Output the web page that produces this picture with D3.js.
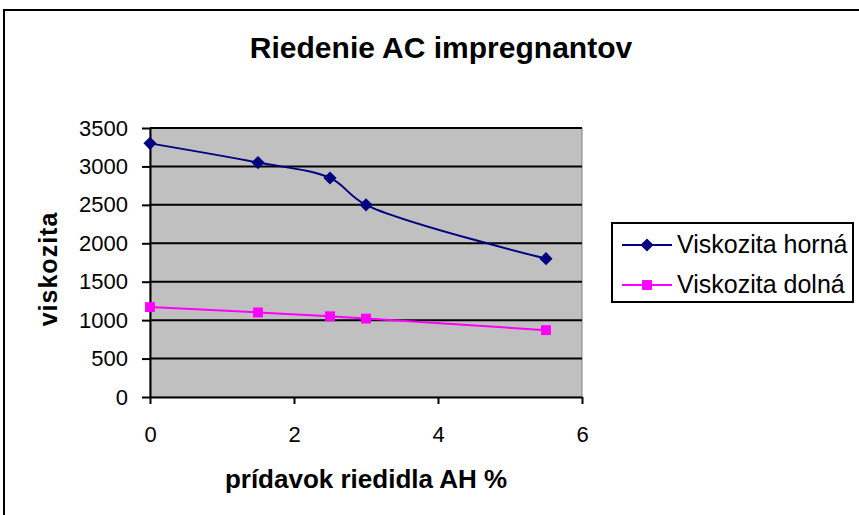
<!DOCTYPE html>
<html lang="sk">
<head>
  <meta charset="UTF-8">
  <title>Riedenie AC impregnantov</title>
  <script src="https://d3js.org/d3.v7.min.js"></script>
  <style>
    body { margin: 0; background: #fff; }
    svg { display: block; font-family: "Liberation Sans", Arial, sans-serif; }
  </style>
</head>
<body>
<svg id="chart" width="859" height="515"></svg>
<script>
  // hodnoty odčítané z grafu
  const pridavok = [0, 1.5, 2.5, 3, 5.5];
  const viskHorna = [3300, 3050, 2850, 2500, 1800];
  const viskDolna = [1170, 1100, 1050, 1020, 870];
  const xTicks = [0, 2, 4, 6];
  const yTicks = [0, 500, 1000, 1500, 2000, 2500, 3000, 3500];
  const seriesNames = ["Viskozita horná", "Viskozita dolná"];

  const svg = d3.select("#chart");

  // rámik celého grafu (vpravo a dole orezaný)
  svg.append("rect")
    .attr("x", 4).attr("y", 10)
    .attr("width", 900).attr("height", 600)
    .attr("fill", "#fff")
    .attr("stroke", "#000")
    .attr("stroke-width", 2);

  const plot = { left: 150, right: 582, top: 128, bottom: 397 };

  const x = d3.scaleLinear().domain([0, 6]).range([plot.left, plot.right]);
  const y = d3.scaleLinear().domain([0, 3500]).range([plot.bottom, plot.top]);

  // sivá plocha
  svg.append("rect")
    .attr("x", plot.left).attr("y", plot.top)
    .attr("width", plot.right - plot.left)
    .attr("height", plot.bottom - plot.top)
    .attr("fill", "#c0c0c0")
    .attr("stroke", "#808080")
    .attr("stroke-width", 1);

  // vodorovné mriežky
  svg.selectAll(".grid")
    .data(yTicks.filter(d => d > 0))
    .enter()
    .append("line")
    .attr("x1", plot.left).attr("x2", plot.right)
    .attr("y1", d => y(d)).attr("y2", d => y(d))
    .attr("stroke", "#000")
    .attr("stroke-width", 2);

  // osi
  const yAxis = svg.append("g")
    .attr("transform", `translate(${plot.left},0)`)
    .call(d3.axisLeft(y).tickValues(yTicks).tickFormat(d3.format("d"))
      .tickSize(8).tickPadding(14).tickSizeOuter(0));
  const xAxis = svg.append("g")
    .attr("transform", `translate(0,${plot.bottom})`)
    .call(d3.axisBottom(x).tickValues(xTicks).tickFormat(d3.format("d"))
      .tickSize(7).tickPadding(22).tickSizeOuter(0));

  [yAxis, xAxis].forEach(g => {
    g.select(".domain").attr("stroke", "#000").attr("stroke-width", 2);
    g.selectAll(".tick line").attr("stroke", "#000").attr("stroke-width", 2);
    g.selectAll(".tick text")
      .attr("fill", "#000")
      .style("font-size", "22px")
      .style("font-family", "'Liberation Sans', Arial, sans-serif");
  });

  // krivky
  const line = d3.line()
    .x(d => x(d[0]))
    .y(d => y(d[1]))
    .curve(d3.curveCatmullRom.alpha(0.5));

  const horna = pridavok.map((p, i) => [p, viskHorna[i]]);
  const dolna = pridavok.map((p, i) => [p, viskDolna[i]]);

  svg.append("path")
    .datum(dolna)
    .attr("d", line)
    .attr("fill", "none")
    .attr("stroke", "#ff00ff")
    .attr("stroke-width", 2);

  svg.append("path")
    .datum(horna)
    .attr("d", line)
    .attr("fill", "none")
    .attr("stroke", "#000080")
    .attr("stroke-width", 2);

  const diamond = d3.symbol().type(d3.symbolDiamond2).size(110);
  const square = d3.symbol().type(d3.symbolSquare2).size(125);

  svg.selectAll(".m-dolna")
    .data(dolna)
    .enter()
    .append("path")
    .attr("d", square)
    .attr("transform", d => `translate(${x(d[0])},${y(d[1])})`)
    .attr("fill", "#ff00ff");

  svg.selectAll(".m-horna")
    .data(horna)
    .enter()
    .append("path")
    .attr("d", diamond)
    .attr("transform", d => `translate(${x(d[0])},${y(d[1])})`)
    .attr("fill", "#000080");

  // titulky
  svg.append("text")
    .attr("x", 441).attr("y", 58)
    .attr("text-anchor", "middle")
    .style("font-size", "30px")
    .style("font-weight", "bold")
    .text("Riedenie AC impregnantov");

  svg.append("text")
    .attr("x", (plot.left + plot.right) / 2).attr("y", 488)
    .attr("text-anchor", "middle")
    .style("font-size", "26px")
    .style("font-weight", "bold")
    .text("prídavok riedidla AH %");

  svg.append("text")
    .attr("transform", "translate(57,269) rotate(-90)")
    .attr("text-anchor", "middle")
    .style("font-size", "25px")
    .style("font-weight", "bold")
    .style("letter-spacing", "1px")
    .text("viskozita");

  // legenda
  const legend = svg.append("g").attr("transform", "translate(612,223)");
  legend.append("rect")
    .attr("width", 241).attr("height", 79)
    .attr("fill", "#fff")
    .attr("stroke", "#000")
    .attr("stroke-width", 2);

  const legColors = ["#000080", "#ff00ff"];
  const legSymbols = [diamond, square];
  seriesNames.forEach((name, i) => {
    const ly = 22 + i * 40;
    legend.append("line")
      .attr("x1", 10).attr("x2", 60)
      .attr("y1", ly).attr("y2", ly)
      .attr("stroke", legColors[i])
      .attr("stroke-width", 2);
    legend.append("path")
      .attr("d", legSymbols[i])
      .attr("transform", `translate(35,${ly})`)
      .attr("fill", legColors[i]);
    legend.append("text")
      .attr("x", 65).attr("y", ly + 8)
      .style("font-size", "25px")
      .text(name);
  });
</script>
</body>
</html>
